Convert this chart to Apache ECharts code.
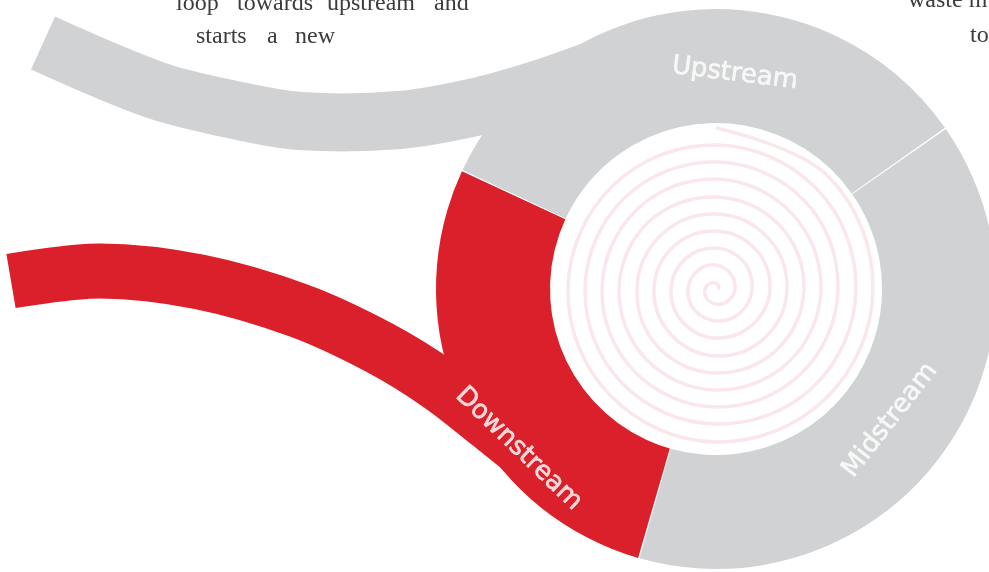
<!DOCTYPE html>
<html>
<head>
<meta charset="utf-8">
<script src="https://cdn.jsdelivr.net/npm/echarts@6/dist/echarts.min.js"></script>
<style>
  html, body { margin: 0; padding: 0; background: #fff; }
  #chart { width: 989px; height: 572px; }
</style>
</head>
<body>
<div id="chart"></div>
<script>
// ring stages, clockwise from the upper left, sized in degrees
const stages = ['Upstream', 'Midstream', 'Downstream'];
const stageSpan = [120, 141, 99];

// the two tails feeding into the ring (page pixels, centre line)
const grayTail = [[43, 43], [155, 90], [230, 109], [300, 121], [400, 120], [480, 106], [540, 89], [600, 68], [655, 50]];
const redTail = [[11, 281], [100, 271], [200, 282], [300, 311], [380, 348], [440, 385], [490, 424], [525, 452]];

// spiral radius read every 45 degrees, from the middle outwards
const spiralRadius = [
  2, 4, 6, 8, 11, 13, 15, 17, 19, 21, 24, 26, 28, 30, 32, 34,
  36, 39, 41, 43, 45, 47, 49, 51, 54, 56, 58, 60, 62, 64, 67, 69,
  71, 73, 75, 77, 79, 82, 84, 86, 88, 90, 92, 95, 97, 99, 101, 103,
  105, 107, 110, 112, 114, 116, 118, 120, 122, 125, 127, 129, 131, 133,
  135, 138, 140, 142, 144, 146, 148, 150, 153, 155, 157, 159, 161
];

const gray = '#d1d2d4';
const red = '#d9202b';
const serif = '24px "Liberation Serif", serif';
const textColor = '#3c3c3c';

function word(text, x, y) {
  return {
    type: 'text',
    x: x,
    y: y,
    style: { text: text, font: serif, fill: textColor, verticalAlign: 'middle' }
  };
}

// one smooth stroke through all points of a series (drawn once, on the first item)
function band(points, color, width, smooth) {
  return function (params, api) {
    if (params.dataIndex !== 0) return null;
    return {
      type: 'polyline',
      silent: true,
      shape: { points: points.map(p => api.coord(p)), smooth: smooth },
      style: { stroke: color, lineWidth: width, fill: null, lineCap: 'butt' }
    };
  };
}

const spiralData = spiralRadius.map((r, i) => [r, (i * 45) % 360]);

const option = {
  animation: false,
  grid: { left: 0, right: 0, top: 0, bottom: 0 },
  xAxis: { type: 'value', min: 0, max: 989, show: false },
  yAxis: { type: 'value', min: 0, max: 572, inverse: true, show: false },
  polar: { center: [716, 289], radius: 280 },
  angleAxis: { type: 'value', min: 0, max: 360, startAngle: 0, clockwise: false, show: false },
  radiusAxis: { type: 'value', min: 0, max: 280, show: false },
  graphic: [
    word('loop', 176, 4),
    word('towards', 237, 4),
    word('upstream', 327, 4),
    word('and', 434, 4),
    word('starts', 196, 37),
    word('a', 267, 37),
    word('new', 295, 37),
    word('waste m', 908, 1),
    word('to', 970, 36)
  ],
  series: [
    {
      type: 'custom',
      data: grayTail,
      renderItem: band(grayTail, gray, 58, 0.33),
      z: 1
    },
    {
      type: 'custom',
      data: redTail,
      renderItem: band(redTail, red, 55, 0.33),
      z: 1
    },
    {
      type: 'pie',
      center: [716, 289],
      radius: [166, 280],
      startAngle: 155,
      clockwise: true,
      padAngle: 0.3,
      silent: true,
      label: { show: false },
      labelLine: { show: false },
      data: stages.map((name, i) => ({
        name: name,
        value: stageSpan[i],
        itemStyle: { color: name === 'Downstream' ? red : gray }
      })),
      z: 3
    },
    {
      type: 'custom',
      coordinateSystem: 'polar',
      data: spiralData,
      renderItem: band(spiralData, '#f9e7ea', 3.5, 0.375),
      z: 4
    },
    {
      type: 'scatter',
      coordinateSystem: 'polar',
      symbolSize: 0,
      silent: true,
      label: {
        show: true,
        position: 'inside',
        formatter: '{b}',
        color: '#fff',
        fontSize: 26,
        fontFamily: 'DejaVu Sans',
        textBorderColor: '#fff',
        textBorderWidth: 0.6
      },
      data: [
        { name: stages[0], value: [216, 85], label: { rotate: -7 } },
        { name: stages[1], value: [218, 323], label: { rotate: 52 } },
        { name: stages[2], value: [254, 219], label: { rotate: -44 } }
      ],
      z: 5
    }
  ]
};

const myChart = echarts.init(document.getElementById('chart'));
myChart.setOption(option);
window.addEventListener('resize', () => myChart.resize());
</script>
</body>
</html>
